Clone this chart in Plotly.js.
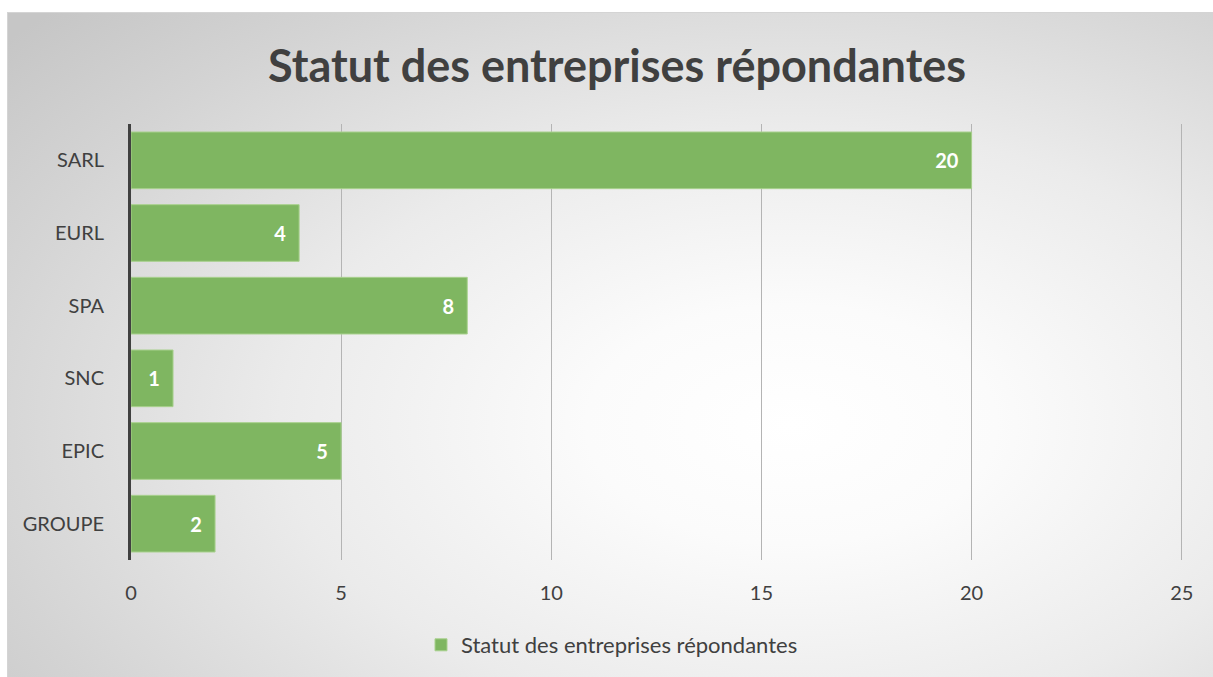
<!DOCTYPE html>
<html>
<head>
<meta charset="utf-8">
<script src="https://cdn.plot.ly/plotly-3.0.1.min.js"></script>
<style>
  html, body { margin:0; padding:0; background:#ffffff; }
  #bg { position:absolute; left:7px; top:12px; width:1206px; height:665px;
        background: radial-gradient(ellipse 85% 90% at 65% 62%, #ffffff 0%, #fbfbfb 20%, #ebebeb 50%, #d4d4d4 80%, #c6c6c6 100%);
        border-top:1px solid #d4d4d4; border-left:1px solid #d4d4d4; box-sizing:border-box; }
  #chart { position:absolute; left:0; top:0; width:1213px; height:677px; }
</style>
</head>
<body>
<div id="bg"></div>
<div id="chart"></div>
<script>
const categories = ["SARL", "EURL", "SPA", "SNC", "EPIC", "GROUPE"];
const values = [20, 4, 8, 1, 5, 2];
const seriesName = "Statut des entreprises répondantes";
const chartTitle = "Statut des entreprises répondantes";
const xTicks = [0, 5, 10, 15, 20, 25];

const fontFam = "Lato, 'Open Sans', sans-serif";

const trace = {
  type: 'bar',
  orientation: 'h',
  y: categories,
  x: values,
  name: seriesName,
  marker: { color: '#7fb661', line: { color: '#a9d18e', width: 1 } },
  texttemplate: '<b>%{x}</b>\u00a0\u00a0',
  textposition: 'inside',
  insidetextanchor: 'end',
  textfont: { family: fontFam, size: 20, color: '#ffffff' },
  cliponaxis: false,
  showlegend: true,
  hoverinfo: 'none'
};

const layout = {
  width: 1213, height: 677,
  paper_bgcolor: 'rgba(0,0,0,0)',
  plot_bgcolor: 'rgba(0,0,0,0)',
  margin: { l: 131, r: 30, t: 124, b: 117 },
  font: { family: fontFam, color: '#404040' },
  title: {
    text: '<b>' + chartTitle + '</b>',
    font: { family: fontFam, size: 45, color: '#404040' },
    x: 617/1213, xref: 'container', xanchor: 'center',
    y: 1 - 66/677, yref: 'container', yanchor: 'middle'
  },
  bargap: 0.22,
  xaxis: {
    range: [0, 25.03],
    tickvals: xTicks,
    ticktext: xTicks.map(String),
    showgrid: true, gridcolor: '#b4b4b4', gridwidth: 1,
    zeroline: false, showline: false,
    ticks: '',
    ticklabelstandoff: 19,
    tickfont: { family: fontFam, size: 20, color: '#404040' },
    fixedrange: true
  },
  yaxis: {
    type: 'category',
    categoryorder: 'array', categoryarray: categories,
    autorange: 'reversed',
    showgrid: false, zeroline: false,
    showline: true, linecolor: '#404040', linewidth: 3,
    ticks: '',
    ticklabelstandoff: 20,
    tickfont: { family: fontFam, size: 20, color: '#404040' },
    fixedrange: true
  },
  showlegend: true,
  legend: {
    orientation: 'h',
    x: 612/1213, xref: 'container', xanchor: 'center',
    y: 32/677, yref: 'container', yanchor: 'middle',
    font: { family: fontFam, size: 22, color: '#404040' },
    bgcolor: 'rgba(0,0,0,0)'
  }
};

Plotly.newPlot('chart', [trace], layout, { displayModeBar: false, staticPlot: true });
</script>
</body>
</html>
